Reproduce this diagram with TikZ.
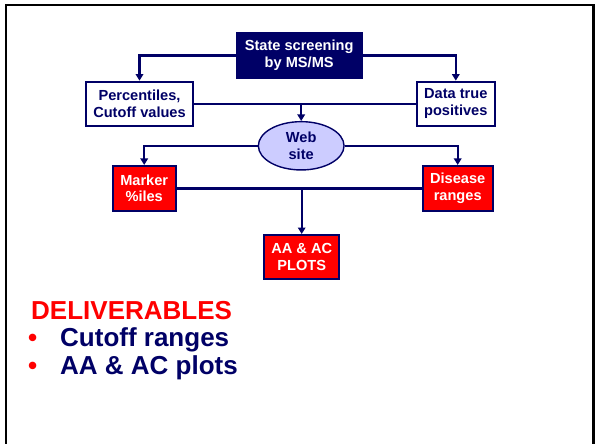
\documentclass[tikz,border=0pt]{standalone}
\usepackage{fontspec}
\setmainfont{Liberation Sans}
\usetikzlibrary{shapes.geometric,arrows.meta}
\definecolor{navy}{RGB}{0,0,102}
\definecolor{lav}{RGB}{204,204,255}
\definecolor{brightred}{RGB}{255,0,0}
\tikzset{
  boxtext/.style={font=\bfseries\fontsize{14.6}{16.7}\selectfont, align=center, inner sep=0pt, line width=2pt, draw=navy},
  whitebox/.style={boxtext, fill=white, text=navy},
  navybox/.style={boxtext, fill=navy, text=white},
  redbox/.style={boxtext, fill=brightred, text=white},
  webell/.style={boxtext, ellipse, fill=lav, text=navy, line width=1.4pt},
  conn/.style={navy, line width=2.4pt},
  arr/.style={conn, -{Triangle[length=6.5pt,width=7.5pt]}},
  bigtext/.style={font=\bfseries\fontsize{26}{28}\selectfont, anchor=base west, inner sep=0pt}
}
\begin{document}
\begin{tikzpicture}[x=1pt,y=-1pt]
\useasboundingbox (0,0) rectangle (595,444);
\fill[white] (0,0) rectangle (595,444);
\draw[black, line width=2.2pt] (6,446) -- (6,5) -- (593.5,5) -- (593.5,446);

\node[navybox, minimum width=125pt, minimum height=44.4pt] (state) at (299.2,55.5) {State screening\\by MS/MS};
\node[whitebox, minimum width=107.6pt, minimum height=44.3pt] (perc) at (139.5,103.8) {Percentiles,\\Cutoff values};
\node[whitebox, minimum width=78.3pt, minimum height=44.3pt] (data) at (455.8,103.8) {Data true\\positives};
\node[webell, minimum width=85.7pt, minimum height=48.3pt] (web) at (301.2,145.8) {Web\\site};
\node[redbox, minimum width=63pt, minimum height=44.7pt] (marker) at (144.2,188.3) {Marker\\\%iles};
\node[redbox, minimum width=70pt, minimum height=44.7pt] (disease) at (457.7,188.3) {Disease\\ranges};
\node[redbox, minimum width=75.3pt, minimum height=44pt] (aa) at (301.7,257) {AA \& AC\\PLOTS};

\draw[arr] (state.west) -| (perc.north);
\draw[arr] (state.east) -| (data.north);
\draw[conn] (perc.east) -- (data.west);
\coordinate (j1) at (perc.east -| web.north);
\draw[arr] (j1) -- (web.north);
\draw[arr] (web.west) -| (marker.north);
\draw[arr] (web.east) -| (disease.north);
\draw[conn] (marker.east) -- (disease.west);
\coordinate (j2) at (marker.east -| aa.north);
\draw[arr] (j2) -- (aa.north);

\node[bigtext, text=brightred] (deliv) at (31,319) {DELIVERABLES};
\node[bigtext, text=brightred] (b1) at (28,346) {•};
\node[bigtext, text=navy] (t1) at (60,346) {Cutoff ranges};
\node[bigtext, text=brightred] (b2) at (28,374) {•};
\node[bigtext, text=navy] (t2) at (60,374) {AA \& AC plots};
\end{tikzpicture}
\end{document}
